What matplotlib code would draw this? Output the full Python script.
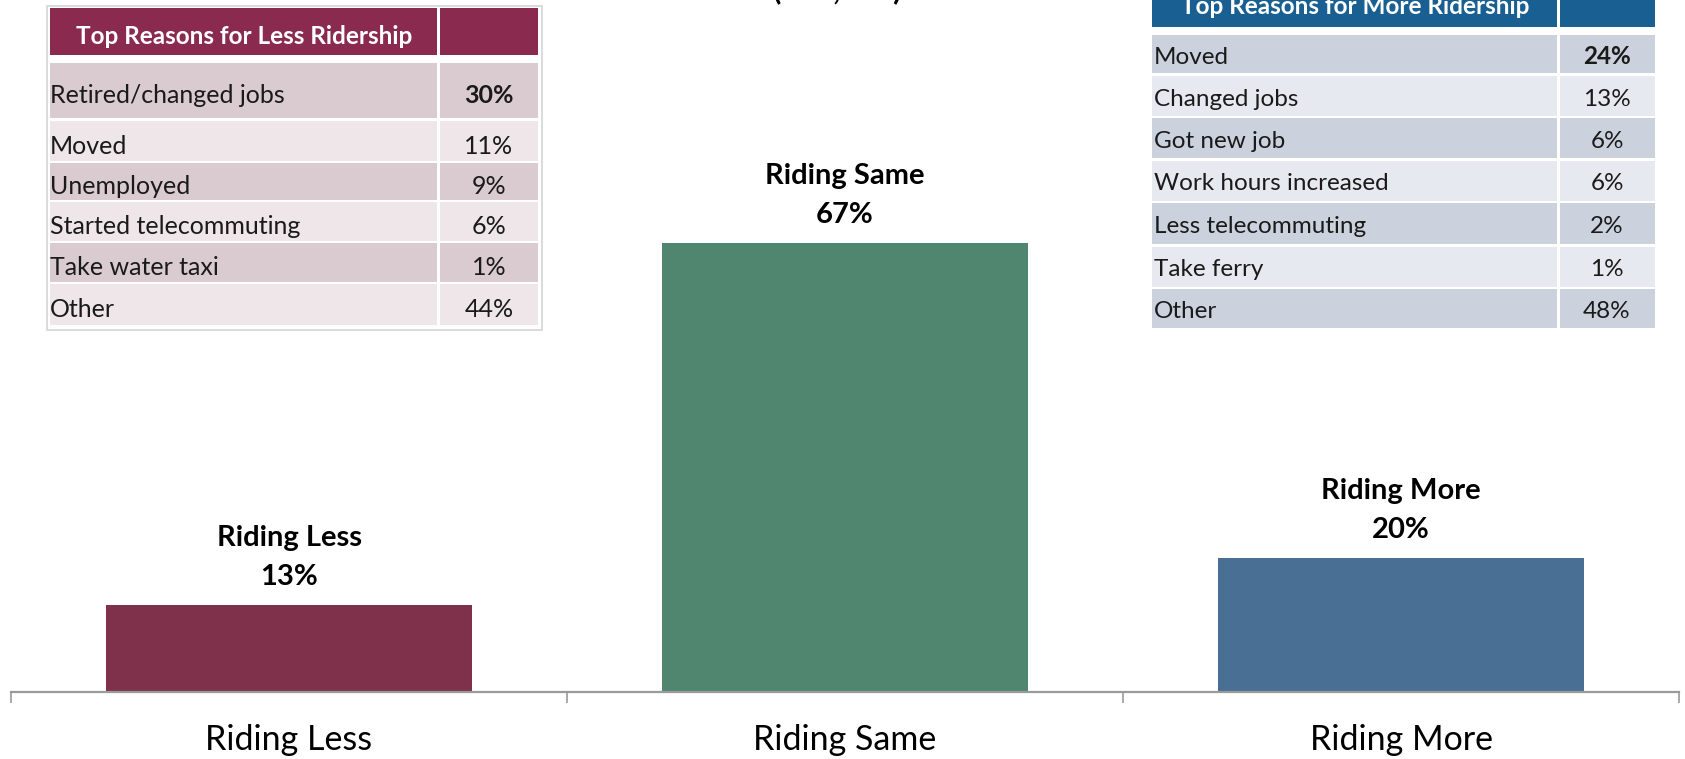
import matplotlib
matplotlib.use("Agg")
import matplotlib.pyplot as plt
from matplotlib.patches import Rectangle

plt.rcParams["font.family"] = ["Lato", "DejaVu Sans"]

# Main bar chart data
categories = ["Riding Less", "Riding Same", "Riding More"]
shares = [13, 67, 20]
bar_colors = ["#7f304b", "#508570", "#4a6f94"]

# Reason tables
less_reasons = ["Retired/changed jobs", "Moved", "Unemployed",
                "Started telecommuting", "Take water taxi", "Other"]
less_values = ["30%", "11%", "9%", "6%", "1%", "44%"]
more_reasons = ["Moved", "Changed jobs", "Got new job", "Work hours increased",
                "Less telecommuting", "Take ferry", "Other"]
more_values = ["24%", "13%", "6%", "6%", "2%", "1%", "48%"]
subtitle = "(n=1,235)"

W, H = 1685, 759
fig = plt.figure(figsize=(W / 100, H / 100), dpi=100)

# ---- bar chart ----
base_px = 692
ax = fig.add_axes([11 / W, (H - base_px) / H, (1679 - 11) / W, base_px / H])
x = list(range(len(categories)))
bars = ax.bar(x, shares, width=0.66, color=bar_colors, zorder=2)
ax.set_xlim(-0.5, 2.5)
ax.set_ylim(0, base_px / 6.7)
for s in ["top", "right", "left"]:
    ax.spines[s].set_visible(False)
ax.spines["bottom"].set_color("#9a9a9a")
ax.spines["bottom"].set_linewidth(1.6)
ax.set_yticks([])
ax.set_xticks(x)
ax.set_xticklabels(categories, fontsize=24.5, color="black")
ax.tick_params(axis="x", which="major", length=0, pad=23)
ax.set_xticks([-0.5, 0.5, 1.5, 2.5], minor=True)
ax.tick_params(axis="x", which="minor", length=8, width=1.2, color="#9a9a9a",
               direction="out")
for xi, cat, val in zip(x, categories, shares):
    ax.annotate(f"{cat}\n{val}%", (xi, val), xytext=(0, 11),
                textcoords="offset points", ha="center", va="bottom",
                fontsize=21, fontweight="bold", linespacing=1.6)

# ---- overlay in pixel coordinates for the tables ----
ov = fig.add_axes([0, 0, 1, 1], zorder=5)
ov.set_xlim(0, W)
ov.set_ylim(H, 0)
ov.axis("off")
ov.patch.set_alpha(0)

ov.text(838, -1, subtitle, ha="center", va="baseline", fontsize=22,
        fontweight="bold", color="black")


def draw_table(left, mid, right, header_rows, row_bounds, reasons, values,
               header_color, dark, light, title, title_y, text_x, val_x,
               fontsize, text_dy, bold_first=True):
    h0, h1 = header_rows
    ov.add_patch(Rectangle((left, h0), mid - left - 1.5, h1 - h0,
                           color=header_color, lw=0))
    ov.add_patch(Rectangle((mid + 1.5, h0), right - mid - 1.5, h1 - h0,
                           color=header_color, lw=0))
    ov.text((left + mid) / 2, title_y, title, ha="center", va="center",
            fontsize=17.5, fontweight="bold", color="white")
    for i, ((y0, y1), r, v) in enumerate(zip(row_bounds, reasons, values)):
        c = dark if i % 2 == 0 else light
        ov.add_patch(Rectangle((left, y0), mid - left - 1.5, y1 - y0,
                               color=c, lw=0))
        ov.add_patch(Rectangle((mid + 1.5, y0), right - mid - 1.5, y1 - y0,
                               color=c, lw=0))
        yc = (y0 + y1) / 2 + text_dy
        ov.text(text_x, yc, r, ha="left", va="center", fontsize=fontsize,
                color="#1a1a1a")
        ov.text(val_x, yc, v, ha="center", va="center", fontsize=fontsize,
                color="#1a1a1a",
                fontweight="bold" if (bold_first and i == 0) else "normal")


# left table (less ridership)
ov.add_patch(Rectangle((47, 6), 495, 324, fill=False, ec="#d4d4d4", lw=1.2))
draw_table(50, 438.5, 538, (8, 55),
           [(63, 118), (121, 161), (163, 200), (202, 241), (243, 282),
            (284, 325)],
           less_reasons, less_values, "#8a2a4e", "#dacbd0", "#eee6e9",
           "Top Reasons for Less Ridership", 36, 50, 489, 18, 5)

# right table (more ridership)
draw_table(1152, 1558.5, 1655, (-5, 27),
           [(35, 73), (76, 116), (118, 158), (161, 201), (203, 244),
            (247, 287), (289, 328)],
           more_reasons, more_values, "#195f91", "#cbd2dd", "#e6e9ef",
           "Top Reasons for More Ridership", 7, 1154, 1607, 17.5, 3)

fig.savefig("out.png", dpi=100)
